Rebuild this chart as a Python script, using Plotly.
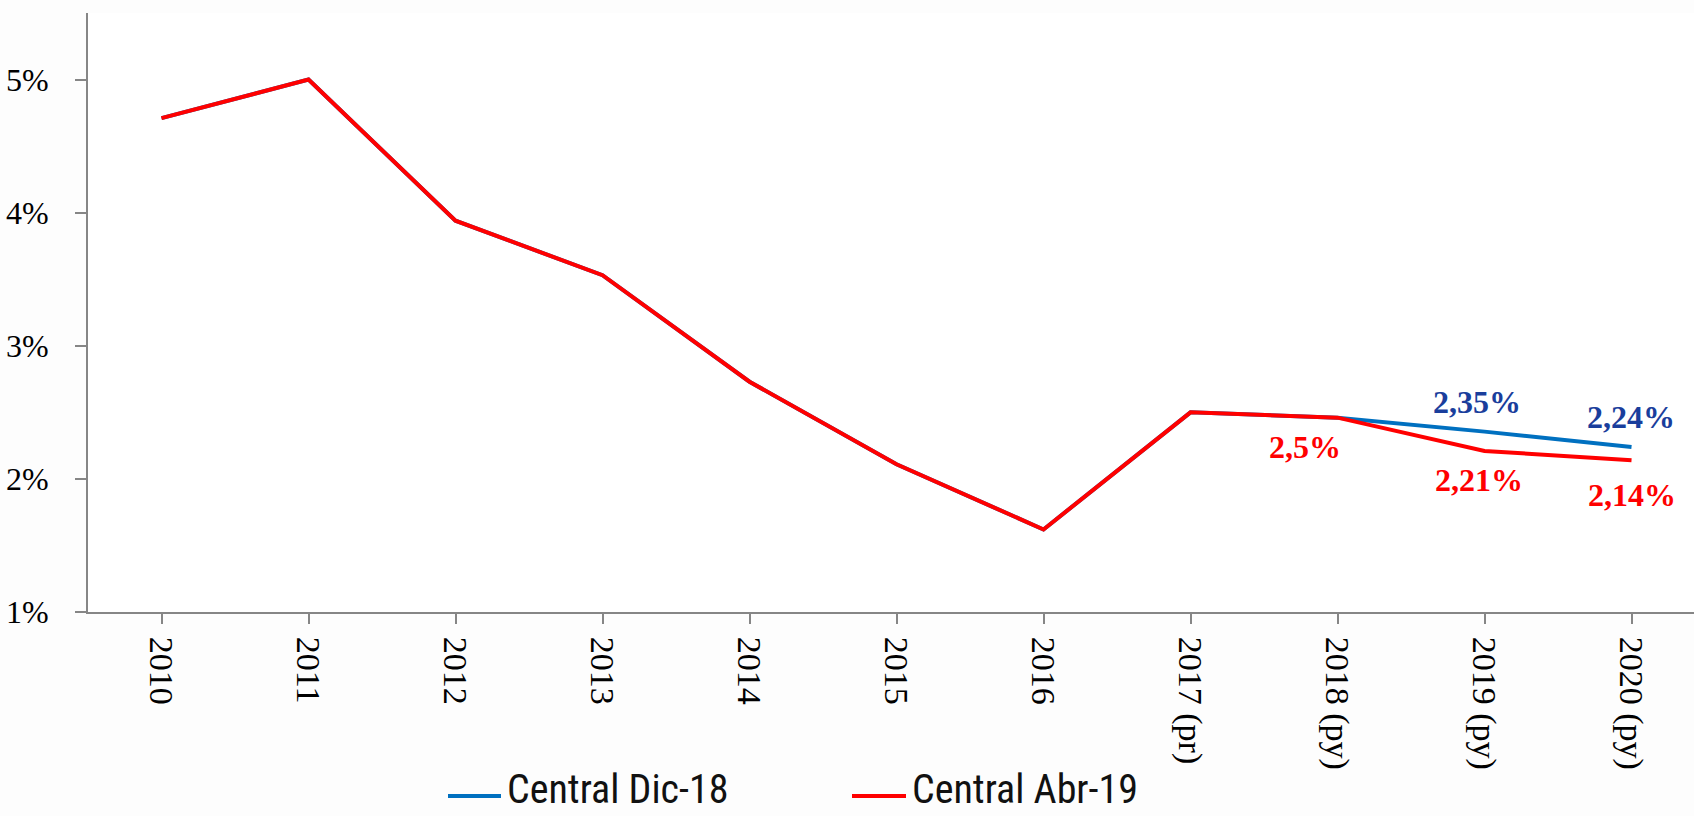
import plotly.graph_objects as go

# ---- data ----
categories = ["2010", "2011", "2012", "2013", "2014", "2015", "2016",
              "2017 (pr)", "2018 (py)", "2019 (py)", "2020 (py)"]
central_dic18 = [4.71, 5.00, 3.94, 3.53, 2.73, 2.11, 1.62, 2.50, 2.46, 2.355, 2.24]
central_abr19 = [4.71, 5.00, 3.94, 3.53, 2.73, 2.11, 1.62, 2.50, 2.46, 2.21, 2.14]
series_names = ["Central Dic-18", "Central Abr-19"]
y_ticks = [1, 2, 3, 4, 5]
y_tick_labels = ["1%", "2%", "3%", "4%", "5%"]

# data labels: (category index, text)
labels_dic18 = [(9, "2,35%"), (10, "2,24%")]
labels_abr19 = [(8, "2,5%"), (9, "2,21%"), (10, "2,14%")]

BLUE = "#0070C0"
BLUE_LBL = "#1A3E9C"
RED = "#FF0000"
AXIS = "#868686"

W, H = 1694, 816
ML, MT, MB, MR = 88, 13, 204, 0
x_range = [-0.5, 10.425]

x_idx = list(range(len(categories)))

fig = go.Figure()
fig.add_trace(go.Scatter(x=x_idx, y=central_dic18, mode="lines", name=series_names[0],
                         line=dict(color=BLUE, width=4), showlegend=False))
fig.add_trace(go.Scatter(x=x_idx, y=central_abr19, mode="lines", name=series_names[1],
                         line=dict(color=RED, width=4), showlegend=False))

lbl_font = dict(family="Liberation Serif, Times New Roman, serif", size=32)
shifts_blue = {9: (-8, 30), 10: (-1, 30)}
shifts_red = {8: (-33, -29), 9: (-6, -29), 10: (0, -35)}
for i, txt in labels_dic18:
    dx, dy = shifts_blue[i]
    fig.add_annotation(x=i, y=central_dic18[i], text="<b>%s</b>" % txt, showarrow=False,
                       xshift=dx, yshift=dy, font=dict(color=BLUE_LBL, **lbl_font))
for i, txt in labels_abr19:
    dx, dy = shifts_red[i]
    fig.add_annotation(x=i, y=central_abr19[i], text="<b>%s</b>" % txt, showarrow=False,
                       xshift=dx, yshift=dy, font=dict(color=RED, **lbl_font))

# ---- manual legend (pixel positions converted to paper coords) ----
pw = W - ML - MR
ph = H - MT - MB
def px_x(px):
    return (px - ML) / pw
def px_y(py):
    return (H - MB - py) / ph

legend_items = [(448, 501, 506, BLUE, series_names[0]),
                (852, 906, 911, RED, series_names[1])]
leg_line_y = 796
leg_text_y = 789
for x0, x1, tx, col, name in legend_items:
    fig.add_shape(type="line", xref="paper", yref="paper",
                  x0=px_x(x0), x1=px_x(x1), y0=px_y(leg_line_y), y1=px_y(leg_line_y),
                  line=dict(color=col, width=4))
    fig.add_annotation(xref="paper", yref="paper", x=px_x(tx), y=px_y(leg_text_y),
                       xanchor="left", yanchor="middle", showarrow=False, text=name,
                       borderpad=0,
                       font=dict(family="Liberation Sans Narrow, Arial Narrow, Roboto Condensed, sans-serif",
                                 size=40, color="#111111"))

fig.update_layout(
    width=W, height=H,
    margin=dict(l=ML, r=MR, t=MT, b=MB, pad=0),
    paper_bgcolor="#fdfdfd", plot_bgcolor="#ffffff",
    showlegend=False,
)
fig.update_xaxes(
    range=x_range, tickmode="array", tickvals=x_idx, ticktext=categories,
    tickangle=90, tickson="boundaries", ticks="outside", ticklen=10, tickwidth=1.5,
    tickcolor=AXIS, showline=True, linecolor=AXIS, linewidth=2, showgrid=False,
    zeroline=False, tickfont=dict(family="Liberation Serif, Times New Roman, serif", size=34, color="#000000"),
    ticklabelstandoff=6,
)
fig.update_yaxes(
    range=[1, 5.5], tickmode="array", tickvals=y_ticks, ticktext=y_tick_labels,
    ticks="outside", ticklen=11, tickwidth=1.5, tickcolor=AXIS, showline=True,
    linecolor=AXIS, linewidth=2, showgrid=False, zeroline=False,
    tickfont=dict(family="Liberation Serif, Times New Roman, serif", size=32, color="#000000"),
    ticklabelstandoff=20,
)

fig.write_html("out.html", config={"displayModeBar": False},
               post_script="document.body.style.margin='0';document.body.style.overflow='hidden';")
